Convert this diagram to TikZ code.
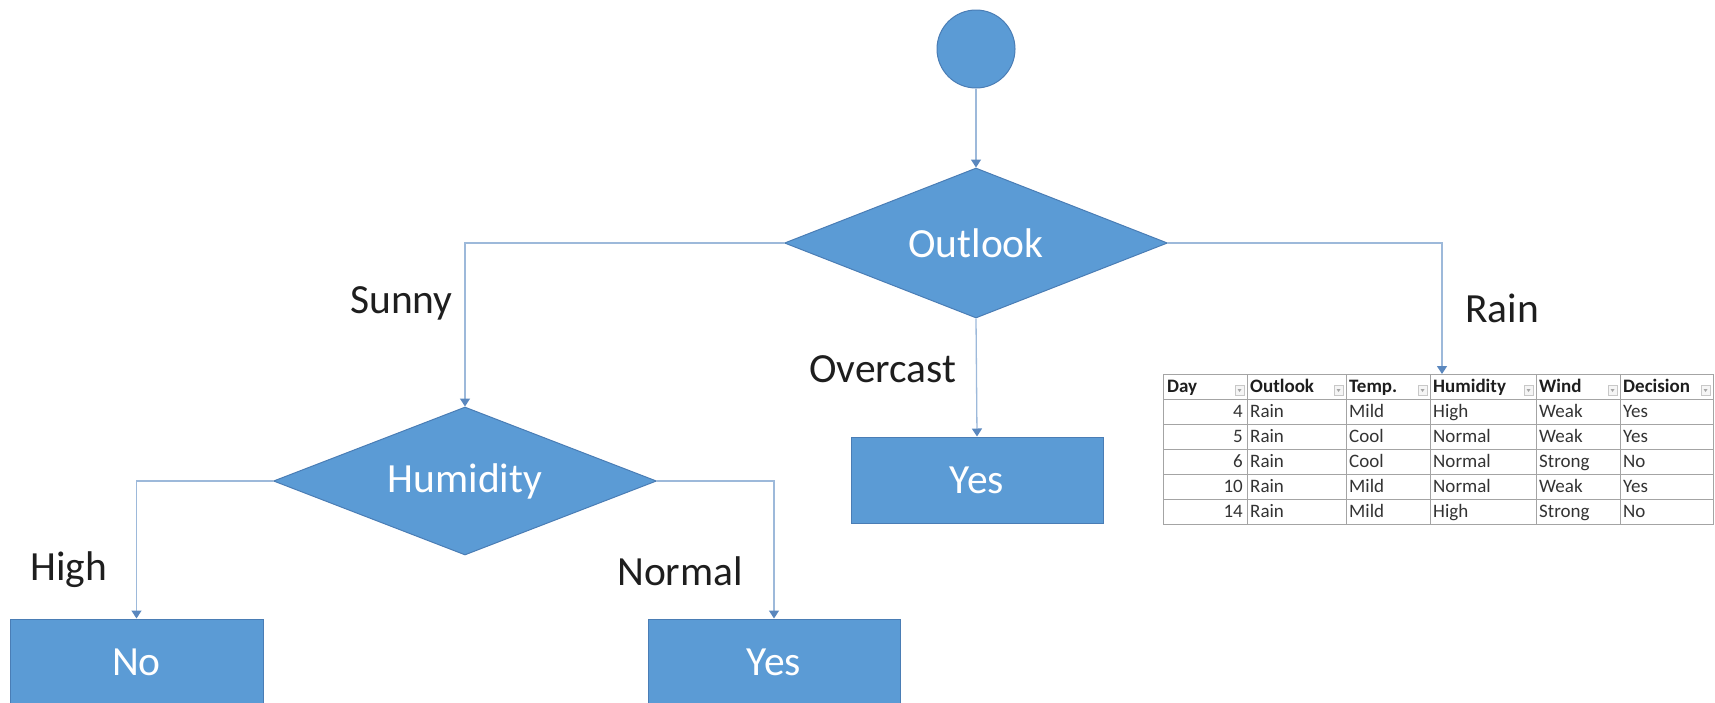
\documentclass[tikz,border=0pt]{standalone}
\usepackage{fontspec}
\setmainfont{Carlito}
\usetikzlibrary{shapes.geometric,arrows.meta,calc}

\definecolor{shapeblue}{HTML}{5B9BD5}
\definecolor{shapeedge}{HTML}{4A7DB5}
\definecolor{linkblue}{HTML}{9DB9DA}
\definecolor{tipblue}{HTML}{5A87BE}
\definecolor{gridgray}{HTML}{A4A4A4}
\definecolor{inkgray}{HTML}{1E1E1E}
\definecolor{cellgray}{HTML}{333333}

\begin{document}
\begin{tikzpicture}[x=1pt,y=-1pt,
  bigtext/.style={font=\fontsize{41.5}{48}\selectfont},
  blueshape/.style={fill=shapeblue, draw=shapeedge, line width=1pt,
    text=white, bigtext, inner sep=0pt},
  decision/.style={blueshape, diamond, aspect=2.55,
    minimum width=383pt, minimum height=150pt},
  leaf/.style={blueshape, rectangle, minimum width=252pt, minimum height=86pt},
  startnode/.style={blueshape, circle, minimum size=78pt},
  link/.style={draw=linkblue, line width=1.3pt,
    -{Triangle[width=10pt,length=8pt,color=tipblue]}},
  branch/.style={bigtext, text=inkgray, anchor=base west, inner sep=0pt},
  cell/.style={font=\fontsize{19}{21}\selectfont, text=cellgray, inner sep=0pt, anchor=base west},
  headcell/.style={cell, font=\fontsize{19}{21}\selectfont\bfseries, text=inkgray},
  numcell/.style={cell, anchor=base east},
  grid/.style={draw=gridgray, line width=1pt},
  filterbtn/.style={draw=gridgray!60, fill=gray!8, line width=0.6pt}
]
\useasboundingbox (0,0) rectangle (1715,702);
\clip (0,0) rectangle (1715,702);

% ---- decision tree shapes ----
\node[startnode] (start) at (976,49) {};
\node[decision] (outlook) at (976,243) {Outlook};
\node[decision, minimum height=148pt] (humidity) at (465,481) {Humidity};
\node[leaf] (yesmid) at (977,480) {Yes};
\node[leaf, minimum width=253pt] (no) at (136.5,662) {No};
\node[leaf] (yesbot) at (774,662) {Yes};

% ---- branch labels ----
\node[branch] (lsunny) at (350,313) {Sunny};
\node[branch] (lover) at (809,382) {Overcast};
\node[branch] (lrain) at (1465,322) {Rain};
\node[branch] (lhigh) at (30,580) {High};
\node[branch] (lnormal) at (617,585) {Normal};

% ---- data table for the Rain branch ----
\node[inner sep=0pt, minimum width=550pt, minimum height=150pt,
      anchor=north west, grid] (tbl) at (1163,374) {};
\foreach \yy in {399,424,449,474,499}
  \draw[grid] (1163,\yy) -- (1713,\yy);
\foreach \xx in {1247,1346,1430,1536,1620}
  \draw[grid] (\xx,374) -- (\xx,524);

% filter buttons in the header row
\foreach \xr in {1247,1346,1430,1536,1620,1713} {
  \draw[filterbtn] (\xr-12,385) rectangle (\xr-3,395);
  \fill[gray!70] (\xr-9.5,389) -- (\xr-5.5,389) -- (\xr-7.5,392) -- cycle;
}

% header
\node[headcell] (hday) at (1167,392) {Day};
\node[headcell] (hout) at (1250,392) {Outlook};
\node[headcell] (htemp) at (1349,392) {Temp.};
\node[headcell] (hhum) at (1433,392) {Humidity};
\node[headcell] (hwind) at (1539,392) {Wind};
\node[headcell] (hdec) at (1623,392) {Decision};

% rows
\foreach \d/\o/\t/\h/\w/\c [count=\r] in
  {4/Rain/Mild/High/Weak/Yes,
   5/Rain/Cool/Normal/Weak/Yes,
   6/Rain/Cool/Normal/Strong/No,
   10/Rain/Mild/Normal/Weak/Yes,
   14/Rain/Mild/High/Strong/No} {
  \pgfmathsetmacro{\by}{392+25*\r}
  \node[numcell] (day-\r) at (1243,\by) {\d};
  \node[cell] (out-\r) at (1250,\by) {\o};
  \node[cell] (tmp-\r) at (1349,\by) {\t};
  \node[cell] (hum-\r) at (1433,\by) {\h};
  \node[cell] (wnd-\r) at (1539,\by) {\w};
  \node[cell] (dec-\r) at (1623,\by) {\c};
}

% ---- connectors ----
\draw[link] (start.south) -- (outlook.north);
\draw[link] (outlook.west) -| (humidity.north);
\draw[link] (outlook.south) -- (yesmid.north);
\draw[link] (outlook.east) -| ($(tbl.north west)+(279,0)$);
\draw[link] (humidity.west) -| (no.north);
\draw[link] (humidity.east) -| (yesbot.north);
\end{tikzpicture}
\end{document}
